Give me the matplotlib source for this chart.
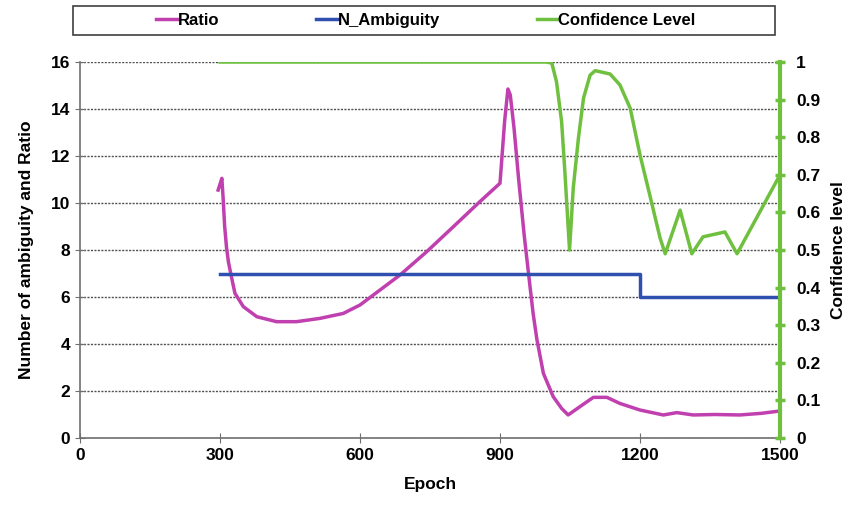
import matplotlib
matplotlib.use('Agg')
import matplotlib.pyplot as plt
from matplotlib.patches import Rectangle

plt.rcParams['font.family'] = ['Liberation Sans', 'DejaVu Sans']
plt.rcParams['font.weight'] = 'bold'

# ratio curve
ratio_epoch = [296, 300, 304, 307, 310, 314, 318, 323, 332, 350, 379, 421, 464, 514, 564,
               600, 643, 686, 743, 800, 857, 900, 910, 917, 922, 930, 940, 952, 964, 971,
               979, 993, 1014, 1032, 1046, 1071, 1100, 1129, 1157, 1200, 1250, 1279,
               1314, 1360, 1414, 1460, 1500]
ratio_val = [10.55, 10.8, 11.05, 10.1, 9.0, 8.1, 7.5, 7.0, 6.16, 5.59, 5.16, 4.95, 4.95,
             5.09, 5.3, 5.66, 6.3, 6.94, 7.93, 8.99, 10.06, 10.84, 13.5, 14.85, 14.6,
             13.2, 11.0, 8.6, 6.5, 5.3, 4.2, 2.75, 1.76, 1.26, 0.98, 1.33, 1.73, 1.73,
             1.47, 1.19, 0.98, 1.08, 0.98, 1.0, 0.98, 1.05, 1.15]

# number of ambiguities
amb_epoch = [300, 1200, 1200, 1500]
amb_val = [7, 7, 6, 6]

# confidence level
conf_epoch = [300, 1000, 1011, 1021, 1032, 1039, 1049, 1057, 1068, 1079, 1093, 1104,
              1136, 1157, 1179, 1200, 1221, 1243, 1254, 1286, 1311, 1335, 1382, 1408,
              1500]
conf_val = [1.0, 1.0, 0.997, 0.948, 0.842, 0.708, 0.5, 0.665, 0.797, 0.904, 0.965,
            0.977, 0.968, 0.939, 0.877, 0.753, 0.646, 0.532, 0.49, 0.606, 0.49, 0.535,
            0.548, 0.49, 0.70]

c_ratio = '#C040B0'
c_amb = '#3050B0'
c_conf = '#70C040'
grey = '#707070'

fig = plt.figure(figsize=(8.49, 5.07), dpi=100)
ax = fig.add_axes([80/849, 69/507, 700/849, 376/507])
ax2 = ax.twinx()

l1, = ax.plot(ratio_epoch, ratio_val, color=c_ratio, lw=2.5, label='Ratio',
              solid_joinstyle='round')
l2, = ax.plot(amb_epoch, amb_val, color=c_amb, lw=2.5, label='N_Ambiguity')
l3, = ax2.plot(conf_epoch, conf_val, color=c_conf, lw=2.5, label='Confidence Level',
               solid_joinstyle='round')

ax.set_xlim(0, 1500)
ax.set_ylim(0, 16)
ax2.set_ylim(0, 1)
ax.set_xticks(range(0, 1501, 300))
ax.set_yticks(range(0, 17, 2))
ax2.set_yticks([i/10 for i in range(11)])
ax2.set_yticklabels(['0'] + ['%.1f' % (i/10) for i in range(1, 10)] + ['1'])

ax.yaxis.grid(True, linestyle=(0, (1.5, 1)), color='#505050', lw=1)
ax.set_axisbelow(True)

for s in ['top', 'right']:
    ax.spines[s].set_visible(False)
ax.spines['left'].set_color(grey)
ax.spines['bottom'].set_color(grey)
ax.spines['left'].set_linewidth(1.2)
ax.spines['bottom'].set_linewidth(1.2)
for s in ['top', 'left', 'bottom']:
    ax2.spines[s].set_visible(False)
ax2.spines['right'].set_color(c_conf)
ax2.spines['right'].set_linewidth(3)

ax.tick_params(axis='both', direction='inout', length=7, color=grey, labelsize=12.5)
ax2.tick_params(axis='y', direction='inout', length=7, width=2.5, color=c_conf,
                labelsize=12.5, pad=8)

ax.set_xlabel('Epoch', fontsize=12.5, fontweight='bold', labelpad=10)
ax.set_ylabel('Number of ambiguity and Ratio', fontsize=12.5, fontweight='bold', labelpad=12)
ax2.set_ylabel('Confidence level', fontsize=12.5, fontweight='bold', labelpad=8)

# legend box
fig.patches.append(Rectangle((73/849, 1 - 35/507), 702/849, 29/507,
                             transform=fig.transFigure, fill=False,
                             edgecolor='#404040', lw=1.2))
fig.legend(handles=[l1, l2, l3], loc='center', bbox_to_anchor=(426/849, 1 - 20.5/507),
           ncol=3, frameon=False, handlelength=1.3, handletextpad=0.0,
           columnspacing=5.8, prop={'weight': 'bold', 'size': 12})

fig.savefig('out.png', dpi=100)
